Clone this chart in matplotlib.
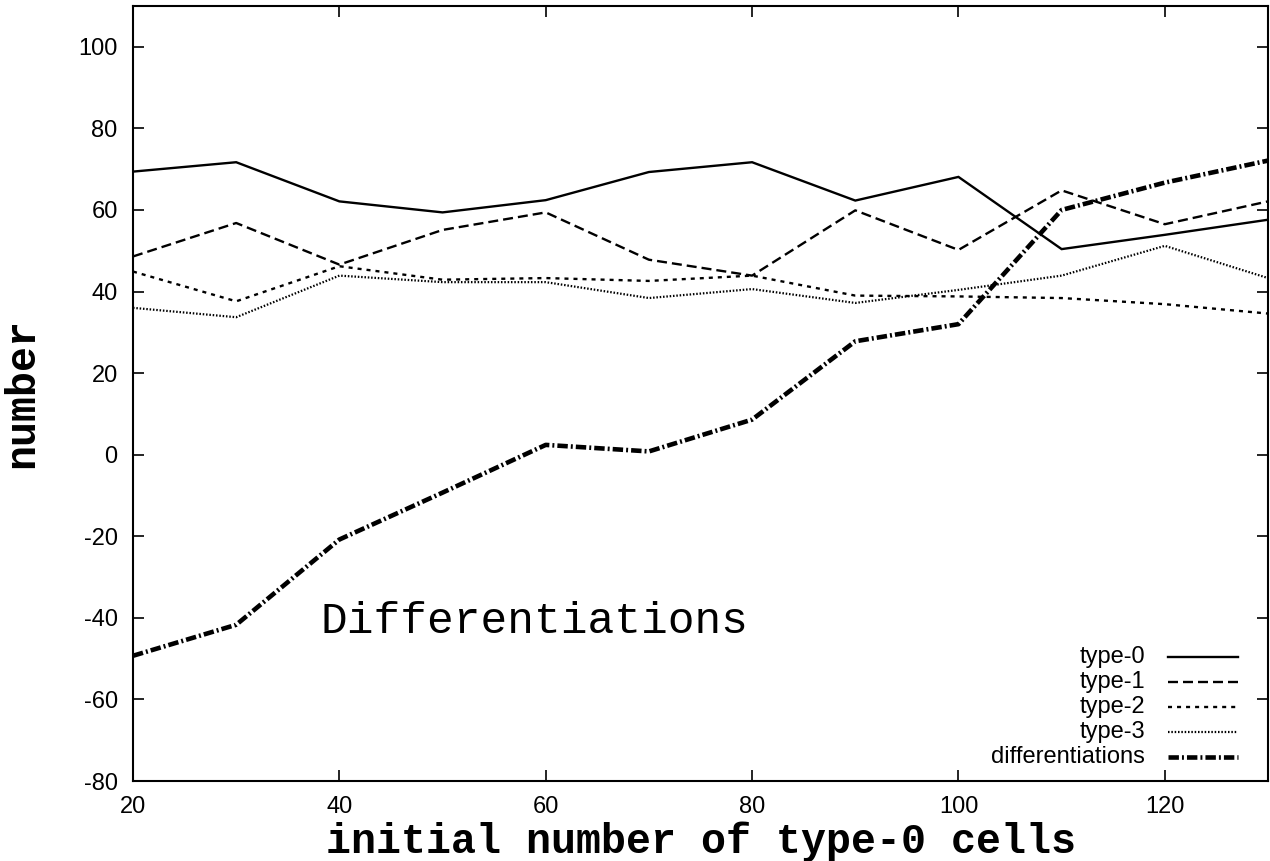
import matplotlib
matplotlib.use("Agg")
import matplotlib.pyplot as plt
from matplotlib.lines import Line2D

plt.rcParams['axes.unicode_minus'] = False
plt.rcParams['lines.scale_dashes'] = False

x = [20, 30, 40, 50, 60, 70, 80, 90, 100, 110, 120, 130]
type0 = [69.4, 71.7, 62.1, 59.4, 62.4, 69.3, 71.7, 62.3, 68.1, 50.4, 53.9, 57.6]
type1 = [48.6, 56.8, 46.6, 55.1, 59.4, 47.8, 43.9, 59.9, 50.2, 64.8, 56.5, 62.1]
type2 = [44.9, 37.6, 46.2, 42.9, 43.3, 42.6, 43.9, 39.0, 38.8, 38.4, 36.9, 34.6]
type3 = [36.0, 33.7, 43.9, 42.3, 42.3, 38.4, 40.6, 37.2, 40.4, 43.9, 51.2, 43.3]
diffs = [-49.3, -41.7, -20.8, -9.3, 2.4, 0.8, 8.6, 27.8, 32.0, 60.0, 66.7, 72.1]

labels = ["type-0", "type-1", "type-2", "type-3", "differentiations"]
xticks = [20, 40, 60, 80, 100, 120]
yticks = [-80, -60, -40, -20, 0, 20, 40, 60, 80, 100]

styles = [
    dict(lw=1.7, ls='-'),
    dict(lw=1.7, ls=(0, (7.2, 3.6))),
    dict(lw=1.7, ls=(0, (2.9, 3.6))),
    dict(lw=1.6, ls=(0, (1.1, 1.3))),
    dict(lw=3.3, ls=(0, (7.5, 2.2, 1.4, 2.2))),
]

fig = plt.figure(figsize=(12.7, 8.61), dpi=100)
ax = fig.add_axes([133/1270, 80/861, 1135/1270, 775/861])

series = [type0, type1, type2, type3, diffs]
for ys, st in zip(series, styles):
    ax.plot(x, ys, color='black', linewidth=st['lw'], linestyle=st['ls'],
            dash_capstyle='butt', solid_joinstyle='miter')

ax.set_xlim(20, 130)
ax.set_ylim(-80, 110)
ax.set_xticks(xticks)
ax.set_yticks(yticks)
ax.tick_params(direction='in', length=8, width=1.2, top=True, right=True,
               labelsize=17, pad=11)
for lab in ax.get_xticklabels() + ax.get_yticklabels():
    lab.set_fontfamily('Liberation Sans')
for sp in ax.spines.values():
    sp.set_linewidth(1.5)

ax.set_xlabel("initial number of type-0 cells", fontfamily='Liberation Mono',
              fontweight='bold', fontsize=30, labelpad=2)
ax.set_ylabel("number", fontfamily='Liberation Mono', fontweight='bold',
              fontsize=30, labelpad=26)

ax.text(38.2, -40.9, "Differentiations", fontfamily='Liberation Mono',
        fontsize=32, va='center', ha='left')

# gnuplot-style key: right-aligned text with sample to the right
rows = [0.160, 0.1277, 0.0955, 0.0632, 0.031]
for lab, st, yy in zip(labels, styles, rows):
    ax.text(0.8916, yy, lab, transform=ax.transAxes, ha='right', va='center',
            fontfamily='Liberation Sans', fontsize=17)
    ax.add_line(Line2D([0.912, 0.9736], [yy, yy], transform=ax.transAxes,
                       color='black', linewidth=st['lw'], linestyle=st['ls'],
                       dash_capstyle='butt'))

fig.savefig("out.png", dpi=100)
